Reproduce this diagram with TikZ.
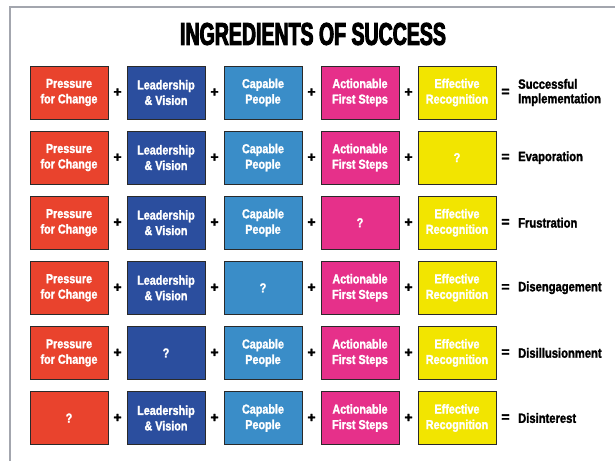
\documentclass[tikz,border=0pt]{standalone}
\usepackage{fontspec}
\setmainfont{Liberation Sans}
% condensed heavy faces built from Liberation Sans
\newfontfamily\headfont[FakeStretch=0.62,BoldFeatures={FakeBold=3}]{Liberation Sans}
\newfontfamily\condfont[FakeStretch=0.83,BoldFeatures={FakeBold=1.6}]{Liberation Sans}
\newfontfamily\opfont[BoldFeatures={FakeBold=2}]{Liberation Sans}

\definecolor{cRed}{HTML}{E9432D}
\definecolor{cNavy}{HTML}{2B4E9E}
\definecolor{cSky}{HTML}{3A8DC8}
\definecolor{cPink}{HTML}{E6308A}
\definecolor{cYellow}{HTML}{F2E500}
\definecolor{frameGray}{HTML}{A3A6AE}
\definecolor{boxEdge}{HTML}{2A2A2A}

\begin{document}
\begin{tikzpicture}[x=1pt,y=-1pt,
  ingr/.style={draw=boxEdge,line width=0.8pt,minimum width=78pt,minimum height=53pt,
    inner sep=0pt,text=white,align=center,
    font={\condfont\bfseries\fontsize{13}{15.5}\selectfont}},
  op/.style={inner sep=0pt,font={\opfont\bfseries\fontsize{14}{14}\selectfont}},
  result/.style={anchor=west,align=left,inner sep=0pt,
    font={\condfont\bfseries\fontsize{13.5}{14.5}\selectfont}}]
\useasboundingbox (0,0) rectangle (615,461);
\fill[white] (0,0) rectangle (615,461);

% page frame
\draw[frameGray,line width=1.5pt] (10,461) -- (10,7) -- (615,7);

% heading
\node[inner sep=0pt,font={\headfont\bfseries\fontsize{31.5}{31.5}\selectfont}] (title) at (313,34) {INGREDIENTS OF SUCCESS};

% one equation per row; \gap is the missing ingredient (0 = none)
\foreach \r/\gap/\res in {1/0/{Successful\\Implementation},2/5/Evaporation,3/4/Frustration,
                          4/3/Disengagement,5/2/Disillusionment,6/1/Disinterest}{
  \foreach \c/\col/\lab in {1/cRed/{Pressure\\for Change},2/cNavy/{Leadership\\\& Vision},
                            3/cSky/{Capable\\People},4/cPink/{Actionable\\First Steps},
                            5/cYellow/{Effective\\Recognition}}{
    \node[ingr,fill=\col] (b\r\c) at ({69+97*(\c-1)},{92.5+65.1*(\r-1)})
      {\ifnum\c=\gap\relax ?\else\lab\fi};
  }
  \foreach \c in {1,2,3,4}{
    \node[op] (p\r\c) at ({117.5+97*(\c-1)},{92.5+65.1*(\r-1)}) {+};
  }
  \node[op] (e\r) at (505.5,{92.5+65.1*(\r-1)}) {=};
  \node[result] (res\r) at (518,{92.5+65.1*(\r-1)}) {\res};
}
\end{tikzpicture}
\end{document}
